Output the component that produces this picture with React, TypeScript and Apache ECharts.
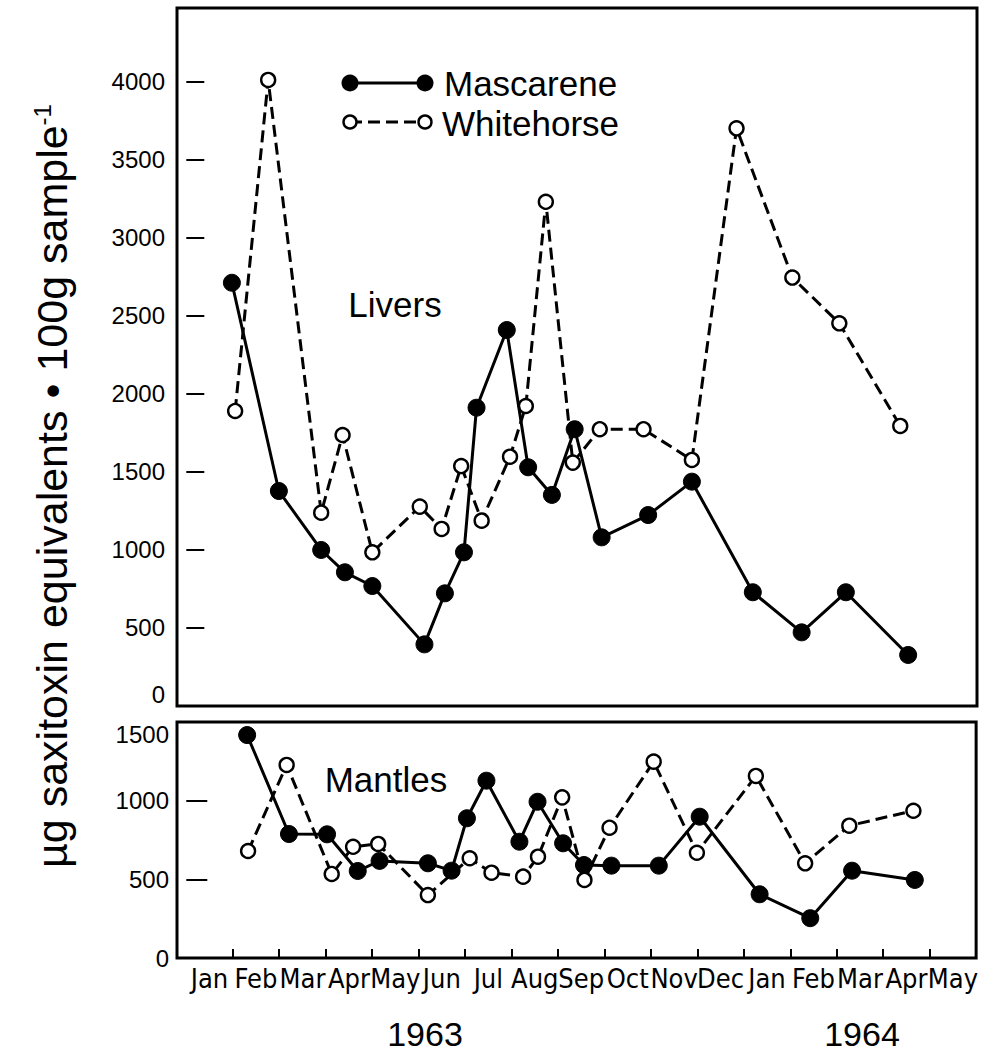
import React, { useEffect, useRef } from "react";
import * as echarts from "echarts";

// Month positions: 0 = 1 Jan 1963, 1 = 1 Feb 1963, ... 16 = 1 May 1964
const monthLabels = ["Jan", "Feb", "Mar", "Apr", "May", "Jun", "Jul", "Aug", "Sep", "Oct", "Nov", "Dec", "Jan", "Feb", "Mar", "Apr", "May"];
const monthBoundaries = [1, 2, 3, 4, 5, 6, 7, 8, 9, 10, 11, 12, 13, 14, 15, 16];
const yearLabels = ["1963", "1964"];

const liverTicks = [0, 500, 1000, 1500, 2000, 2500, 3000, 3500, 4000];
const mantleTicks = [0, 500, 1000, 1500];

// Livers – Mascarene
const liverMascMonth = [0.98, 1.99, 2.9, 3.41, 4.0, 5.12, 5.56, 5.97, 6.24, 6.89, 7.35, 7.86, 8.35, 8.93, 9.93, 10.87, 12.18, 13.23, 14.18, 15.52];
const liverMascValue = [2713, 1378, 1000, 857, 769, 395, 722, 985, 1912, 2410, 1530, 1353, 1774, 1081, 1224, 1438, 729, 472, 729, 327];

// Livers – Whitehorse
const liverWhiteMonth = [1.05, 1.76, 2.9, 3.36, 4.0, 5.02, 5.49, 5.91, 6.35, 6.96, 7.3, 7.73, 8.31, 8.89, 9.83, 10.87, 11.83, 13.03, 14.04, 15.35];
const liverWhiteValue = [1891, 4013, 1239, 1737, 985, 1278, 1135, 1538, 1188, 1598, 1923, 3232, 1560, 1774, 1774, 1577, 3703, 2746, 2453, 1795];

// Mantles – Mascarene
const mantleMascMonth = [1.31, 2.21, 3.03, 3.69, 4.16, 5.2, 5.71, 6.04, 6.46, 7.17, 7.56, 8.11, 8.56, 9.15, 10.17, 11.05, 12.34, 13.43, 14.33, 15.68];
const mantleMascValue = [1417, 788, 786, 553, 617, 602, 555, 888, 1127, 739, 993, 729, 591, 587, 587, 898, 405, 253, 555, 496];

// Mantles – Whitehorse
const mantleWhiteMonth = [1.33, 2.16, 3.13, 3.59, 4.13, 5.2, 6.1, 6.57, 7.25, 7.57, 8.09, 8.57, 9.11, 10.06, 10.99, 12.26, 13.32, 14.27, 15.65];
const mantleWhiteValue = [680, 1227, 534, 707, 725, 400, 634, 542, 517, 644, 1021, 496, 828, 1248, 669, 1157, 602, 841, 936];

const zip = (xs: number[], ys: number[]) => xs.map((x, i) => [x, ys[i]]);

const FONT = "'Liberation Sans', Arial, Helvetica, sans-serif";
const COND = "'DejaVu Sans Condensed', 'Liberation Sans Narrow', 'Liberation Sans', sans-serif";

export default function App() {
  const ref = useRef<HTMLDivElement>(null);

  useEffect(() => {
    if (!ref.current) return;
    const chart = echarts.init(ref.current, undefined, { renderer: "svg" });

    const X_MIN = -0.2;
    const X_MAX = 17;

    const solid = { color: "#000", width: 3, type: "solid" as const };
    const dashed = { color: "#000", width: 3, type: [12, 6] as any };
    const filled = { color: "#000", borderColor: "#000", borderWidth: 1 };
    const open = { color: "#fff", borderColor: "#000", borderWidth: 2.4 };

    const option: any = {
      animation: false,
      backgroundColor: "#fff",
      grid: [
        { left: 177, right: 4, top: 8, height: 698, show: true, borderColor: "#000", borderWidth: 3, backgroundColor: "transparent" },
        { left: 177, right: 4, top: 722, height: 236, show: true, borderColor: "#000", borderWidth: 3, backgroundColor: "transparent" },
      ],
      xAxis: [
        { type: "value", gridIndex: 0, min: X_MIN, max: X_MAX, show: false, splitLine: { show: false } },
        {
          type: "value",
          gridIndex: 1,
          min: X_MIN,
          max: X_MAX,
          splitLine: { show: false },
          axisLine: { show: false },
          axisTick: { show: true, inside: true, length: 9, lineStyle: { color: "#000", width: 2 }, customValues: monthBoundaries },
          axisLabel: {
            show: true,
            customValues: monthLabels.map((_, i) => i + 0.5),
            formatter: (v: number) => monthLabels[Math.floor(v)] ?? "",
            color: "#000",
            fontFamily: COND,
            fontSize: 27,
            margin: 7,
            hideOverlap: false,
            showMinLabel: true,
            showMaxLabel: true,
          },
        },
      ],
      yAxis: [
        {
          type: "value",
          gridIndex: 0,
          min: 0,
          max: 4474,
          splitLine: { show: false },
          axisLine: { show: false },
          axisTick: { show: true, inside: true, length: 18, lineStyle: { color: "#000", width: 2 }, customValues: liverTicks },
          axisLabel: {
            customValues: liverTicks,
            formatter: (v: number) => String(v),
            color: "#000",
            fontFamily: FONT,
            fontSize: 24,
            margin: 12,
            verticalAlignMinLabel: "bottom",
          },
        },
        {
          type: "value",
          gridIndex: 1,
          min: 0,
          max: 1500,
          splitLine: { show: false },
          axisLine: { show: false },
          axisTick: { show: true, inside: true, length: 21, lineStyle: { color: "#000", width: 2 }, customValues: [500, 1000] },
          axisLabel: {
            customValues: mantleTicks,
            formatter: (v: number) => String(v),
            color: "#000",
            fontFamily: FONT,
            fontSize: 24,
            margin: 8,
            verticalAlignMaxLabel: "top",
          },
        },
      ],
      series: [
        {
          name: "Whitehorse", type: "line", xAxisIndex: 0, yAxisIndex: 0,
          data: zip(liverWhiteMonth, liverWhiteValue),
          lineStyle: dashed, symbol: "circle", symbolSize: 14, itemStyle: open, z: 3,
        },
        {
          name: "Mascarene", type: "line", xAxisIndex: 0, yAxisIndex: 0,
          data: zip(liverMascMonth, liverMascValue),
          lineStyle: solid, symbol: "circle", symbolSize: 17, itemStyle: filled, z: 4,
        },
        {
          name: "Whitehorse", type: "line", xAxisIndex: 1, yAxisIndex: 1,
          data: zip(mantleWhiteMonth, mantleWhiteValue),
          lineStyle: dashed, symbol: "circle", symbolSize: 14, itemStyle: open, z: 3,
        },
        {
          name: "Mascarene", type: "line", xAxisIndex: 1, yAxisIndex: 1,
          data: zip(mantleMascMonth, mantleMascValue),
          lineStyle: solid, symbol: "circle", symbolSize: 17, itemStyle: filled, z: 4,
        },
      ],
      graphic: [
        // legend
        { type: "line", shape: { x1: 350, y1: 83, x2: 425, y2: 83 }, style: { stroke: "#000", lineWidth: 3 }, z: 10 },
        { type: "circle", shape: { cx: 350, cy: 83, r: 8.5 }, style: { fill: "#000" }, z: 11 },
        { type: "circle", shape: { cx: 425, cy: 83, r: 8.5 }, style: { fill: "#000" }, z: 11 },
        {
          type: "text", x: 444, y: 83, z: 11,
          style: { text: "Mascarene", fontSize: 35, fontFamily: FONT, fill: "#000", align: "left", textAlign: "left", verticalAlign: "middle", textVerticalAlign: "middle" },
        },
        { type: "line", shape: { x1: 350, y1: 122, x2: 425, y2: 122 }, style: { stroke: "#000", lineWidth: 3, lineDash: [12, 6] }, z: 10 },
        { type: "circle", shape: { cx: 350, cy: 122, r: 6.5 }, style: { fill: "#fff", stroke: "#000", lineWidth: 2.4 }, z: 11 },
        { type: "circle", shape: { cx: 425, cy: 122, r: 6.5 }, style: { fill: "#fff", stroke: "#000", lineWidth: 2.4 }, z: 11 },
        {
          type: "text", x: 442, y: 123, z: 11,
          style: { text: "Whitehorse", fontSize: 35, fontFamily: FONT, fill: "#000", align: "left", textAlign: "left", verticalAlign: "middle", textVerticalAlign: "middle" },
        },
        // panel labels
        {
          type: "text", x: 395, y: 304, z: 11,
          style: { text: "Livers", fontSize: 35, fontFamily: FONT, fill: "#000", align: "center", textAlign: "center", verticalAlign: "middle", textVerticalAlign: "middle" },
        },
        {
          type: "text", x: 386, y: 779, z: 11,
          style: { text: "Mantles", fontSize: 35, fontFamily: FONT, fill: "#000", align: "center", textAlign: "center", verticalAlign: "middle", textVerticalAlign: "middle" },
        },
        // years
        {
          type: "text", x: 425, y: 1034, z: 11,
          style: { text: yearLabels[0], fontSize: 34, fontFamily: FONT, fill: "#000", align: "center", textAlign: "center", verticalAlign: "middle", textVerticalAlign: "middle" },
        },
        {
          type: "text", x: 862, y: 1034, z: 11,
          style: { text: yearLabels[1], fontSize: 34, fontFamily: FONT, fill: "#000", align: "center", textAlign: "center", verticalAlign: "middle", textVerticalAlign: "middle" },
        },
        // y axis title
        {
          type: "text", x: 52, y: 486, rotation: Math.PI / 2, z: 11,
          style: {
            text: "{m|µg saxitoxin equivalents • 100g sample}{s|-1}",
            fontFamily: FONT,
            fill: "#000",
            align: "center", textAlign: "center",
            verticalAlign: "middle", textVerticalAlign: "middle",
            rich: {
              m: { fontSize: 43, fontFamily: FONT, fill: "#000", color: "#000" },
              s: { fontSize: 24, fontFamily: FONT, fill: "#000", color: "#000", verticalAlign: "top" },
            },
          },
        },
      ],
    };

    chart.setOption(option);
    return () => chart.dispose();
  }, []);

  return <div ref={ref} style={{ position: "fixed", left: 0, top: 0, width: 981, height: 1052 }} />;
}
